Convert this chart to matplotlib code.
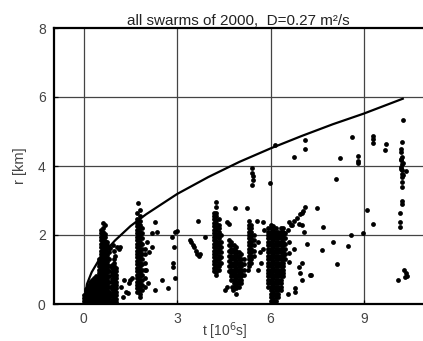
import numpy as np
import matplotlib
matplotlib.use('Agg')
import matplotlib.pyplot as plt

# curva teorica r(t) (t in 10^6 s, r in km)
curve_t = [0.0, 0.1, 0.25, 0.5, 0.75, 1.0, 1.5, 2.0, 3.0, 4.0, 5.0, 6.0, 7.0, 8.0, 9.0, 10.25]
curve_r = [0.0, 0.58, 0.92, 1.30, 1.59, 1.84, 2.26, 2.60, 3.19, 3.68, 4.12, 4.51, 4.87, 5.21, 5.52, 5.95]

# sciami densi: colonne (t, lista di r)
swarm_a = [
    (0.02, [0.0, 0.08, 0.17, 0.26]),
    (0.08, [0.02, 0.1, 0.19, 0.28, 0.37, 0.44]),
    (0.14, [0.0, 0.09, 0.18, 0.27, 0.36, 0.45, 0.53]),
    (0.2, [0.03, 0.12, 0.21, 0.3, 0.39, 0.48, 0.57, 0.64]),
    (0.26, [0.0, 0.09, 0.18, 0.27, 0.36, 0.45, 0.54, 0.63, 0.71]),
    (0.32, [0.04, 0.13, 0.22, 0.31, 0.4, 0.49, 0.58, 0.67, 0.76]),
    (0.38, [0.01, 0.1, 0.19, 0.28, 0.37, 0.46, 0.55, 0.64, 0.73, 0.8]),
    (0.44, [0.05, 0.14, 0.23, 0.32, 0.41, 0.5, 0.6, 0.7]),
]
swarm_b = [
    (0.5, [0.02, 0.11, 0.2, 0.3, 0.4, 0.5, 0.6, 0.7, 0.8, 0.9, 1.0, 1.1, 1.2, 1.3]),
    (0.56, [0.05, 0.15, 0.25, 0.35, 0.45, 0.55, 0.65, 0.75, 0.85, 0.95, 1.05, 1.15, 1.25, 1.35,
            1.45, 1.55, 1.65, 1.75, 1.85, 1.95, 2.05, 2.15]),
    (0.62, [0.0, 0.1, 0.2, 0.3, 0.4, 0.5, 0.6, 0.7, 0.8, 0.9, 1.0, 1.1, 1.2, 1.3, 1.4, 1.5,
            1.6, 1.7, 1.8, 1.9, 2.0, 2.1, 2.2]),
    (0.68, [0.04, 0.14, 0.24, 0.34, 0.44, 0.54, 0.64, 0.74, 0.84, 0.94, 1.04, 1.14, 1.24, 1.34,
            1.44, 1.54, 1.64, 1.74, 1.84, 1.94, 2.02]),
    (0.74, [0.02, 0.12, 0.22, 0.32, 0.42, 0.52, 0.62, 0.72, 0.82, 0.92, 1.02, 1.12, 1.22, 1.32,
            1.42, 1.52, 1.62, 1.72, 1.8]),
    (0.8, [0.06, 0.16, 0.26, 0.36, 0.5, 0.65, 0.8, 0.95, 1.1, 1.3, 1.5, 1.62]),
]
swarm_c = [
    (0.9, [0.03, 0.13, 0.23, 0.33, 0.43, 0.53, 0.63, 0.73, 0.83, 0.93, 1.03, 1.13]),
    (0.97, [0.0, 0.1, 0.2, 0.3, 0.4, 0.5, 0.6, 0.7, 0.8, 0.9, 1.0, 1.1, 1.2, 1.3]),
    (1.04, [0.05, 0.15, 0.25, 0.35, 0.45, 0.55, 0.65, 0.75, 0.85, 0.95, 1.05]),
]
swarm_d = [
    (1.72, [0.35, 0.45, 0.55, 0.65, 0.75, 0.85, 0.95, 1.05, 1.15, 1.25, 1.35, 1.45, 1.55, 1.65,
            1.75, 1.85, 1.95, 2.05, 2.15, 2.25, 2.35, 2.45]),
    (1.8, [0.2, 0.3, 0.4, 0.5, 0.6, 0.7, 0.8, 0.9, 1.0, 1.1, 1.2, 1.3, 1.4, 1.5, 1.6, 1.7, 1.8,
           1.9, 2.0, 2.1, 2.2, 2.3, 2.4, 2.55]),
    (1.88, [0.4, 0.55, 0.7, 0.85, 1.0, 1.15, 1.3, 1.45, 1.6, 1.75, 1.9, 2.05, 2.2]),
    (1.95, [0.5, 0.75, 1.0, 1.2, 1.45, 1.6]),
]
swarm_e = [
    (4.18, [0.95, 1.05, 1.15, 1.25, 1.35, 1.45, 1.55, 1.65, 1.75, 1.85, 1.95, 2.05, 2.15, 2.25,
            2.35, 2.45, 2.55, 2.65]),
    (4.26, [0.84, 0.94, 1.04, 1.14, 1.24, 1.34, 1.44, 1.54, 1.64, 1.74, 1.84, 1.94, 2.04, 2.14,
            2.24, 2.34, 2.44, 2.54, 2.64, 2.8, 2.95]),
    (4.34, [1.0, 1.1, 1.2, 1.3, 1.4, 1.5, 1.6, 1.7, 1.8, 1.9, 2.0, 2.1, 2.2, 2.3, 2.45]),
    (4.42, [1.2, 1.35, 1.5, 1.65, 1.8, 2.0]),
]
swarm_f = [
    (4.66, [0.95, 1.1, 1.25, 1.4, 1.55, 1.7, 1.85]),
    (4.74, [0.7, 0.8, 0.9, 1.0, 1.1, 1.2, 1.3, 1.4, 1.5, 1.6, 1.7, 1.8]),
    (4.82, [0.5, 0.6, 0.7, 0.8, 0.9, 1.0, 1.1, 1.2, 1.3, 1.4, 1.5, 1.6, 1.7]),
    (4.9, [0.45, 0.55, 0.65, 0.75, 0.85, 0.95, 1.05, 1.15, 1.25, 1.35, 1.45, 1.55, 1.65]),
    (4.98, [0.5, 0.6, 0.7, 0.8, 0.9, 1.0, 1.1, 1.2, 1.3, 1.4, 1.5]),
    (5.06, [0.6, 0.7, 0.8, 0.9, 1.0, 1.1, 1.2, 1.3, 1.45]),
    (5.14, [0.85, 1.0, 1.15, 1.3]),
]
swarm_g = [
    (5.3, [1.1, 1.2, 1.3, 1.4, 1.5, 1.6, 1.7, 1.8, 1.9, 2.0, 2.1, 2.2, 2.3, 2.4]),
    (5.38, [1.2, 1.3, 1.4, 1.5, 1.6, 1.7, 1.8, 1.9, 2.0, 2.1, 2.2, 2.3]),
    (5.46, [1.4, 1.55, 1.7, 1.85, 2.0]),
]
swarm_h = [
    (5.92, [0.5, 0.6, 0.7, 0.8, 0.9, 1.0, 1.1, 1.2, 1.3, 1.4, 1.5, 1.6, 1.7, 1.8, 1.9, 2.0, 2.1, 2.2]),
    (6.0, [0.1, 0.2, 0.3, 0.4, 0.5, 0.6, 0.7, 0.8, 0.9, 1.0, 1.1, 1.2, 1.3, 1.4, 1.5, 1.6, 1.7,
           1.8, 1.9, 2.0, 2.1, 2.2, 2.3]),
    (6.08, [0.05, 0.15, 0.25, 0.35, 0.45, 0.55, 0.65, 0.75, 0.85, 0.95, 1.05, 1.15, 1.25, 1.35,
            1.45, 1.55, 1.65, 1.75, 1.85, 1.95, 2.05, 2.15, 2.25]),
    (6.16, [0.1, 0.2, 0.3, 0.4, 0.5, 0.6, 0.7, 0.8, 0.9, 1.0, 1.1, 1.2, 1.3, 1.4, 1.5, 1.6, 1.7,
            1.8, 1.9, 2.0, 2.1, 2.2]),
    (6.24, [0.2, 0.3, 0.4, 0.5, 0.6, 0.7, 0.8, 0.9, 1.0, 1.1, 1.2, 1.3, 1.4, 1.5, 1.6, 1.7, 1.8,
            1.9, 2.0, 2.1]),
    (6.32, [0.4, 0.5, 0.6, 0.7, 0.8, 0.9, 1.0, 1.1, 1.2, 1.3, 1.4, 1.5, 1.6, 1.7, 1.8, 1.9, 2.0,
            2.1, 2.2]),
    (6.4, [0.8, 0.9, 1.0, 1.1, 1.2, 1.3, 1.4, 1.5, 1.6, 1.7, 1.8, 1.9, 2.0, 2.1, 2.2]),
    (6.48, [1.3, 1.45, 1.6, 1.75, 1.9, 2.05]),
]

# eventi isolati
iso_t = [0.6, 0.68, 0.85, 0.95, 1.05, 1.12, 1.16, 1.0, 0.98,
         1.2, 1.25, 1.3, 1.35, 1.41, 1.45, 1.48, 1.55,
         1.74, 1.7, 1.82, 2.0, 2.05, 2.02, 2.08,
         2.2, 2.28, 2.35, 2.93, 2.99, 2.83, 2.18, 2.9, 2.86, 2.86, 2.93, 2.5, 2.28, 2.7,
         3.4, 3.45, 3.5, 3.55, 3.6, 3.65, 3.7, 3.73, 3.67, 3.9,
         4.53, 4.6, 4.85, 5.24, 4.6, 4.68, 5.75, 5.8, 4.8, 4.75, 5.27, 4.9,
         5.4, 5.4, 5.42, 5.42, 5.4, 5.98, 6.14,
         5.55, 5.6, 5.65, 5.7, 5.6, 5.75,
         6.56, 6.65, 6.75, 6.85, 6.95, 7.05, 7.1, 7.0, 6.6, 6.7, 6.9, 7.0, 7.07, 7.17,
         6.6, 6.6, 6.9, 7.0, 6.95, 7.0, 7.27, 6.8, 6.56, 6.8, 6.6, 6.75,
         7.1, 7.1, 6.75, 8.62, 8.23, 8.8, 8.8, 8.8, 8.1, 9.3, 9.3, 9.3, 9.7, 9.68, 10.26,
         10.22, 10.2, 10.2, 10.22, 10.2, 10.24, 10.2, 10.23, 10.21, 10.23, 10.35, 10.22,
         10.22, 10.22, 10.22, 10.15, 10.15, 10.15, 10.18, 10.26, 10.18, 10.26,
         10.1, 10.3, 10.35, 10.38, 10.32,
         9.1, 9.3, 8.97, 8.6, 8.5, 8.0, 7.65, 8.13, 7.49, 7.69, 7.3]
iso_r = [2.35, 2.28, 1.62, 1.72, 1.66, 1.6, 1.65, 1.4, 1.55,
         0.5, 0.2, 0.7, 0.35, 0.32, 0.6, 0.69, 0.75,
         2.92, 2.65, 2.72, 1.0, 0.6, 1.8, 1.5,
         2.05, 2.37, 2.08, 2.08, 2.11, 1.94, 1.66, 1.65, 1.2, 1.07, 0.75, 0.69, 0.4, 0.46,
         1.85, 1.8, 1.72, 1.65, 1.55, 1.45, 1.38, 1.45, 2.4, 1.94,
         0.4, 0.5, 2.77, 2.77, 2.37, 2.32, 2.37, 2.14, 0.4, 0.5, 0.98, 0.3,
         3.93, 3.8, 3.7, 3.6, 3.44, 3.5, 4.6,
         2.4, 1.8, 1.5, 1.2, 1.0, 1.6,
         2.14, 2.3, 2.4, 2.5, 2.6, 2.7, 2.8, 2.63, 2.37, 2.28, 2.32, 2.28, 2.08, 1.73,
         1.47, 1.21, 1.07, 0.69, 0.9, 1.2, 0.84, 0.46, 0.3, 0.35, 1.8, 1.6,
         4.74, 4.48, 4.25, 4.83, 4.22, 4.28, 4.15, 4.08, 3.61, 4.88, 4.78, 4.68, 4.65, 4.45, 5.32,
         4.69, 4.5, 4.4, 4.26, 4.16, 4.07, 3.97, 3.87, 3.78, 3.68, 3.85, 3.53,
         3.38, 3.0, 2.9, 2.63, 2.37, 2.23, 4.2, 4.1, 3.92, 3.75,
         0.69, 0.98, 0.9, 0.82, 0.78,
         2.72, 2.31, 2.05, 1.99, 1.68, 1.79, 1.56, 1.16, 2.77, 2.23, 0.84]

x_ticks = [0, 3, 6, 9]
y_ticks = [0, 2, 4, 6, 8]


def flatten(swarm):
    tt, rr = [], []
    for t, rs in swarm:
        tt += [t] * len(rs)
        rr += rs
    return tt, rr


all_t, all_r = list(iso_t), list(iso_r)
for sw in [swarm_a, swarm_b, swarm_c, swarm_d, swarm_e, swarm_f, swarm_g, swarm_h]:
    tt, rr = flatten(sw)
    all_t += tt
    all_r += rr

plt.rcParams['font.family'] = ['Liberation Sans', 'DejaVu Sans']

fig = plt.figure(figsize=(4.23, 3.41), dpi=100)
ax = fig.add_axes([54 / 423, 37 / 341, 1 - 54 / 423, 276 / 341])

# griglia e assi
for x in x_ticks:
    ax.axvline(x, color='#444444', linewidth=0.9, zorder=1)
for y in y_ticks[1:-1]:
    ax.axhline(y, color='#444444', linewidth=0.9, zorder=1)

ax.scatter(all_t, all_r, s=12, color='black', linewidths=0, zorder=3)
ax.plot(curve_t, curve_r, color='black', linewidth=1.6, zorder=4)

ax.set_xlim(-0.96, 10.9)
ax.set_ylim(0, 8)
ax.set_xticks(x_ticks)
ax.set_yticks(y_ticks)
ax.tick_params(direction='in', length=3, width=0.9, labelsize=10, labelcolor='#444444',
               pad=6)
for side in ['left', 'bottom', 'top']:
    ax.spines[side].set_linewidth(1.6)
ax.spines['right'].set_visible(False)

ax.set_title('all swarms of 2000,  D=0.27 m\u00b2/s', fontsize=11, color='#222222', pad=2)
ax.set_xlabel('t [10$^6$s]', fontsize=10, color='#444444', labelpad=0)
ax.xaxis.set_label_coords(0.463, -0.06)
ax.set_ylabel('r [km]', fontsize=10.5, color='#444444', labelpad=8)

plt.savefig('out.png', dpi=100)
